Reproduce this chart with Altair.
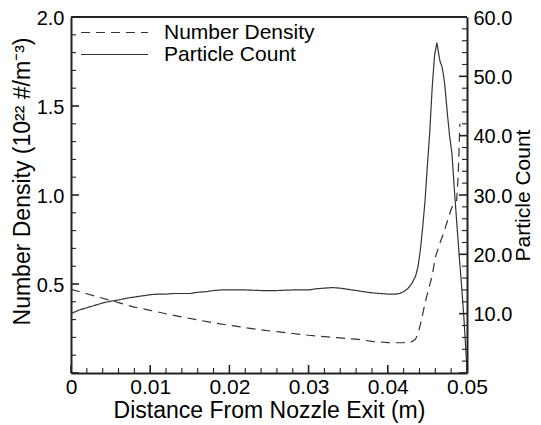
import altair as alt
import pandas as pd

FONT = "Liberation Sans"
INK = "#222222"
LINE = "#333333"

# Particle count (solid line, right axis)
count_x = [0, 0.001, 0.002, 0.003, 0.004, 0.005, 0.006, 0.007, 0.008, 0.009, 0.010,
           0.011, 0.012, 0.013, 0.014, 0.015, 0.016, 0.017, 0.018, 0.019, 0.020,
           0.022, 0.024, 0.026, 0.028, 0.030, 0.031, 0.032, 0.033, 0.034, 0.035,
           0.036, 0.037, 0.038, 0.039, 0.040, 0.041, 0.0415, 0.042, 0.0425, 0.043,
           0.0435, 0.0438, 0.0441, 0.0444, 0.0447, 0.0450, 0.0453, 0.0456, 0.0459,
           0.0462, 0.0464, 0.0466, 0.0468, 0.0470, 0.0472, 0.0475, 0.0478, 0.0481,
           0.0484, 0.0487, 0.0490, 0.0493, 0.0496, 0.0498, 0.0500]
count_y = [10.0, 10.6, 11.0, 11.4, 11.8, 12.1, 12.3, 12.6, 12.8, 13.0, 13.2,
           13.3, 13.3, 13.4, 13.4, 13.4, 13.6, 13.7, 13.9, 14.0, 14.0,
           14.0, 13.9, 13.9, 14.0, 14.0, 14.2, 14.3, 14.4, 14.3, 14.1,
           13.9, 13.7, 13.5, 13.4, 13.3, 13.3, 13.4, 13.7, 14.2, 15.0,
           16.3, 17.8, 20.6, 24.5, 29.0, 35.0, 40.7, 48.0, 53.5,
           55.7, 54.0, 52.5, 51.8, 50.5, 48.5, 44.0, 40.0, 37.0,
           31.0, 25.5, 20.0, 15.0, 9.5, 5.0, 0.5]

# Number density (dashed line, left axis)
dens_x = [0, 0.002, 0.004, 0.006, 0.008, 0.010, 0.012, 0.014, 0.016, 0.018, 0.020,
          0.022, 0.024, 0.026, 0.028, 0.030, 0.032, 0.034, 0.036, 0.038, 0.040,
          0.041, 0.042, 0.043, 0.0435, 0.0438, 0.0441, 0.0444, 0.0448, 0.0452,
          0.0456, 0.0460, 0.0465, 0.0470, 0.0475, 0.0480, 0.0484, 0.0487, 0.0489, 0.0491]
dens_y = [0.47, 0.445, 0.42, 0.395, 0.37, 0.352, 0.333, 0.315, 0.298, 0.282, 0.268,
          0.255, 0.242, 0.232, 0.222, 0.212, 0.204, 0.197, 0.19, 0.178, 0.171,
          0.170, 0.171, 0.175, 0.19, 0.22, 0.27, 0.33, 0.41, 0.48,
          0.545, 0.65, 0.72, 0.78, 0.85, 0.92, 0.96, 0.97, 1.12, 1.40]

series_names = ["Number Density", "Particle Count"]

x_major = [0, 0.01, 0.02, 0.03, 0.04, 0.05]
x_minor = [round(i * 0.002, 3) for i in range(26) if i % 5]
left_major = [0.0, 0.5, 1.0, 1.5, 2.0]
left_minor = [round(i * 0.1, 1) for i in range(21) if i % 5]
right_major = [0, 10, 20, 30, 40, 50, 60]
right_minor = [i * 2 for i in range(31) if i % 5]

W, H = 396, 356
MAJ, MIN = 8, 5

dens_df = pd.DataFrame({"x": dens_x, "y": dens_y, "s": series_names[0]})
count_df = pd.DataFrame({"x": count_x, "y": count_y, "s": series_names[1]})

xscale = alt.Scale(domain=[0, 0.05], nice=False, zero=False)
lscale = alt.Scale(domain=[0, 2], nice=False, zero=False)
rscale = alt.Scale(domain=[0, 60], nice=False, zero=False)
dash_scale = alt.Scale(domain=series_names, range=[[9, 6], [1, 0]])

x_axis = alt.Axis(
    values=x_major, format="~g", ticks=False, tickSize=0, labelFlush=False,
    domain=True, domainColor=INK, domainWidth=2, grid=False,
    labelFontSize=21, labelPadding=3, labelColor="black", labelFont=FONT,
    title="Distance From Nozzle Exit (m)", titleFontSize=23, titleFont=FONT,
    titleFontWeight="normal", titleColor="black", titlePadding=2,
)

legend = alt.Legend(
    title=None, orient="none", legendX=9, legendY=7,
    symbolType="stroke", symbolSize=4489, symbolStrokeWidth=1.2,
    symbolStrokeColor=LINE, labelFontSize=21, labelFont=FONT, labelColor="black",
    labelOffset=15, clipHeight=17, rowPadding=0,
)

dens = alt.Chart(dens_df).mark_line(color=LINE, strokeWidth=1.2).encode(
    x=alt.X("x:Q", scale=xscale, axis=x_axis),
    y=alt.Y("y:Q", scale=lscale, axis=alt.Axis(
        orient="left", values=[0.5, 1.0, 1.5, 2.0], format=".1f",
        ticks=False, tickSize=0, labelFlush=False, labelOffset=1,
        domain=True, domainColor=INK, domainWidth=2, grid=False,
        labelFontSize=20, labelPadding=7, labelColor="black", labelFont=FONT,
        title="Number Density (10²² #/m⁻³)", titleFontSize=23, titleFont=FONT,
        titleFontWeight="normal", titleColor="black", titleAngle=270,
        titleX=-37, titleY=164, titleBaseline="bottom",
    )),
    strokeDash=alt.StrokeDash("s:N", scale=dash_scale, legend=legend),
    order=alt.Order("x:Q"),
)

count = alt.Chart(count_df).mark_line(color=LINE, strokeWidth=1.2).encode(
    x=alt.X("x:Q", scale=xscale, axis=x_axis),
    y=alt.Y("y:Q", scale=rscale, axis=alt.Axis(
        orient="right", values=[10, 20, 30, 40, 50, 60], format=".1f",
        ticks=False, tickSize=0, labelFlush=False, labelOffset=1,
        domain=True, domainColor=INK, domainWidth=2, grid=False,
        labelFontSize=20, labelPadding=6, labelColor="black", labelFont=FONT,
        title="Particle Count", titleFontSize=21, titleFont=FONT,
        titleFontWeight="normal", titleColor="black", titleAngle=270,
        titleX=62, titleBaseline="alphabetic",
    )),
    strokeDash=alt.StrokeDash("s:N", scale=dash_scale, legend=legend),
    order=alt.Order("x:Q"),
)


def ytick(values, scale, x0, x1, width):
    df = pd.DataFrame({"v": values})
    return alt.Chart(df).mark_rule(color=INK, strokeWidth=width).encode(
        y=alt.Y("v:Q", scale=scale, axis=None),
        x=alt.value(x0), x2=alt.value(x1),
    )


def xtick(values, length, width):
    df = pd.DataFrame({"v": values})
    return alt.Chart(df).mark_rule(color=INK, strokeWidth=width).encode(
        x=alt.X("v:Q", scale=xscale, axis=x_axis),
        y=alt.value(H - length), y2=alt.value(H),
    )


top_frame = alt.Chart(pd.DataFrame({"v": [0]})).mark_rule(
    color=INK, strokeWidth=2
).encode(x=alt.value(0), x2=alt.value(W), y=alt.value(0))

layers = [
    dens,
    count,
    ytick(left_major, lscale, 0, MAJ, 1.6),
    ytick(left_minor, lscale, 0, MIN, 1.1),
    ytick(right_major, rscale, W - MAJ, W, 1.6),
    ytick(right_minor, rscale, W - MIN, W, 1.1),
    xtick(x_major, MAJ, 1.6),
    xtick(x_minor, MIN, 1.1),
    top_frame,
]

chart = alt.layer(*layers).resolve_scale(y="independent").properties(
    width=W, height=H,
    autosize=alt.AutoSizeParams(type="none"),
    padding={"left": 63, "top": 9, "right": 66, "bottom": 51},
    background="white",
).configure_view(
    stroke=None,
).configure(font=FONT)

chart.save("out.html", embed_options={"renderer": "svg", "actions": False})
